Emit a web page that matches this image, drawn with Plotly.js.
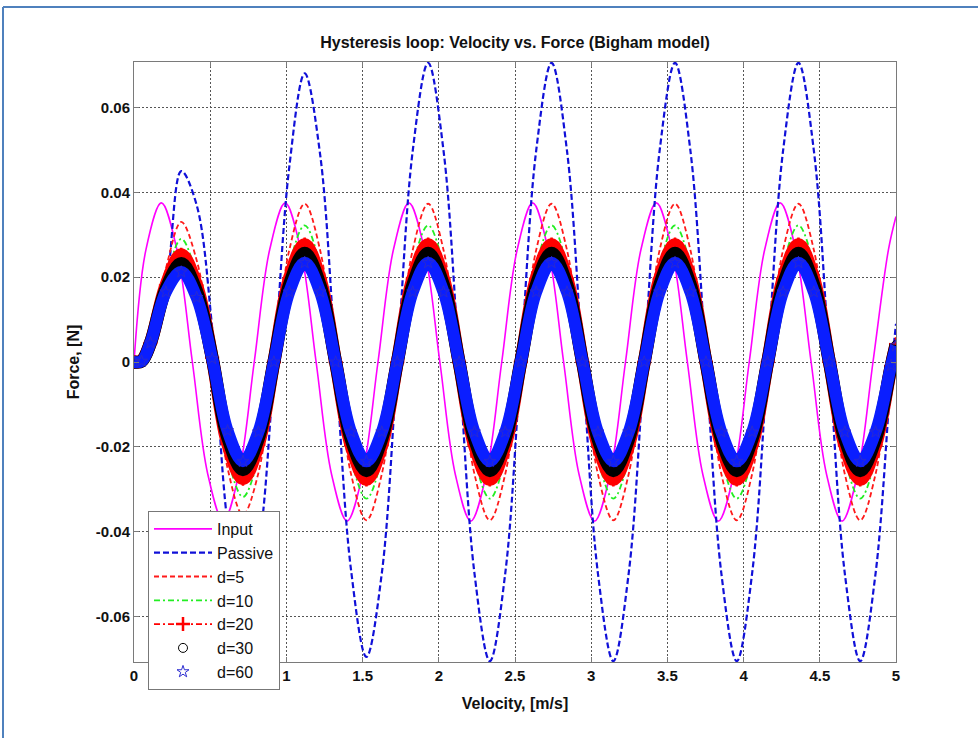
<!DOCTYPE html>
<html>
<head>
<meta charset="utf-8">
<script src="https://cdn.plot.ly/plotly-3.0.1.min.js"></script>
<style>
  html, body { margin: 0; padding: 0; background: #ffffff; }
  #chart { width: 978px; height: 738px; }
</style>
</head>
<body>
<div id="chart"></div>
<script>
// ---- data ----
var xInput = [0, 0.0785, 0.18, 0.2815, 0.383, 0.4845, 0.586, 0.6875, 0.789, 0.8905, 0.992, 1.0935, 1.195, 1.2965, 1.398, 1.4995, 1.601, 1.7025, 1.804, 1.9055, 2.007, 2.1085, 2.21, 2.3115, 2.413, 2.5145, 2.616, 2.7175, 2.819, 2.9205, 3.022, 3.1235, 3.225, 3.3265, 3.428, 3.5295, 3.631, 3.7325, 3.834, 3.9355, 4.037, 4.1385, 4.24, 4.3415, 4.443, 4.5445, 4.646, 4.7475, 4.849, 4.9505, 5.0];
var yInput = [0, 0.0265, 0.0375, 0.0265, 0, -0.0265, -0.0375, -0.0265, 0, 0.0265, 0.0375, 0.0265, 0, -0.0265, -0.0375, -0.0265, 0, 0.0265, 0.0375, 0.0265, 0, -0.0265, -0.0375, -0.0265, 0, 0.0265, 0.0375, 0.0265, 0, -0.0265, -0.0375, -0.0265, 0, 0.0265, 0.0375, 0.0265, 0, -0.0265, -0.0375, -0.0265, 0, 0.0265, 0.0375, 0.0265, 0, -0.0265, -0.0375, -0.0265, 0, 0.0265, 0.0343];

var xResp = [0, 0.05, 0.108, 0.209, 0.31, 0.411, 0.513, 0.614, 0.715, 0.816, 0.918, 1.019, 1.12, 1.221, 1.323, 1.424, 1.525, 1.626, 1.728, 1.829, 1.93, 2.031, 2.133, 2.234, 2.335, 2.436, 2.538, 2.639, 2.74, 2.841, 2.943, 3.044, 3.145, 3.246, 3.348, 3.449, 3.55, 3.651, 3.753, 3.854, 3.955, 4.056, 4.158, 4.259, 4.36, 4.461, 4.563, 4.664, 4.765, 4.866, 4.968, 5.0];

var yPassive = [0, 0.0005, 0.004, 0.017, 0.045, 0.037, 0.008, -0.038, -0.058, -0.044, -0.002, 0.046, 0.068, 0.049, 0, -0.049, -0.0695, -0.0498, 0, 0.0498, 0.0705, 0.0498, 0, -0.0498, -0.0705, -0.0498, 0, 0.0498, 0.0705, 0.0498, 0, -0.0498, -0.0705, -0.0498, 0, 0.0498, 0.0705, 0.0498, 0, -0.0498, -0.0705, -0.0498, 0, 0.0498, 0.0705, 0.0498, 0, -0.0498, -0.0705, -0.0498, -0.003, 0.009];

var yD5 = [0, 0.0004, 0.005, 0.022, 0.033, 0.024, 0.002, -0.025, -0.036, -0.0262, 0, 0.0264, 0.0373, 0.0264, 0, -0.0264, -0.0373, -0.0264, 0, 0.0264, 0.0373, 0.0264, 0, -0.0264, -0.0373, -0.0264, 0, 0.0264, 0.0373, 0.0264, 0, -0.0264, -0.0373, -0.0264, 0, 0.0264, 0.0373, 0.0264, 0, -0.0264, -0.0373, -0.0264, 0, 0.0264, 0.0373, 0.0264, 0, -0.0264, -0.0373, -0.0264, -0.001, 0.005];

var yD10 = [0, 0.0003, 0.0045, 0.0195, 0.029, 0.0205, 0.0015, -0.0225, -0.0318, -0.0226, 0, 0.0228, 0.0322, 0.0228, 0, -0.0228, -0.0322, -0.0228, 0, 0.0228, 0.0322, 0.0228, 0, -0.0228, -0.0322, -0.0228, 0, 0.0228, 0.0322, 0.0228, 0, -0.0228, -0.0322, -0.0228, 0, 0.0228, 0.0322, 0.0228, 0, -0.0228, -0.0322, -0.0228, 0, 0.0228, 0.0322, 0.0228, 0, -0.0228, -0.0322, -0.0228, -0.001, 0.0045];

var yD20 = [0, 0.0003, 0.0045, 0.018, 0.0253, 0.018, 0.001, -0.0192, -0.0275, -0.0195, 0, 0.0196, 0.0277, 0.0196, 0, -0.0196, -0.0277, -0.0196, 0, 0.0196, 0.0277, 0.0196, 0, -0.0196, -0.0277, -0.0196, 0, 0.0196, 0.0277, 0.0196, 0, -0.0196, -0.0277, -0.0196, 0, 0.0196, 0.0277, 0.0196, 0, -0.0196, -0.0277, -0.0196, 0, 0.0196, 0.0277, 0.0196, 0, -0.0196, -0.0277, -0.0196, -0.001, 0.0042];

var yD30 = [0, 0.0002, 0.0045, 0.0172, 0.0232, 0.0166, 0.001, -0.0177, -0.0254, -0.018, 0, 0.0181, 0.0256, 0.0181, 0, -0.0181, -0.0256, -0.0181, 0, 0.0181, 0.0256, 0.0181, 0, -0.0181, -0.0256, -0.0181, 0, 0.0181, 0.0256, 0.0181, 0, -0.0181, -0.0256, -0.0181, 0, 0.0181, 0.0256, 0.0181, 0, -0.0181, -0.0256, -0.0181, 0, 0.0181, 0.0256, 0.0181, 0, -0.0181, -0.0256, -0.0181, -0.001, 0.004];

var yD60 = [0, 0.0002, 0.0045, 0.0165, 0.0212, 0.0152, 0.0008, -0.0162, -0.0234, -0.0165, 0, 0.0165, 0.0234, 0.0165, 0, -0.0165, -0.0234, -0.0165, 0, 0.0165, 0.0234, 0.0165, 0, -0.0165, -0.0234, -0.0165, 0, 0.0165, 0.0234, 0.0165, 0, -0.0165, -0.0234, -0.0165, 0, 0.0165, 0.0234, 0.0165, 0, -0.0165, -0.0234, -0.0165, 0, 0.0165, 0.0234, 0.0165, 0, -0.0165, -0.0234, -0.0165, -0.0008, 0.0038];

var seriesNames = ["Input", "Passive", "d=5", "d=10", "d=20", "d=30", "d=60"];

// the "0.5" label is hidden behind the legend in the reference
var xTickVals = [0, 0.5, 1, 1.5, 2, 2.5, 3, 3.5, 4, 4.5, 5];
var xTickText = ["0", "", "1", "1.5", "2", "2.5", "3", "3.5", "4", "4.5", "5"];
var yTickVals = [-0.06, -0.04, -0.02, 0, 0.02, 0.04, 0.06];
var yTickText = ["-0.06", "-0.04", "-0.02", "0", "0.02", "0.04", "0.06"];

var titleText = "Hysteresis loop: Velocity vs. Force (Bigham model)";
var xTitle = "Velocity, [m/s]";
var yTitle = "Force, [N]";

// ---- traces ----
var FONT = "Liberation Sans, Arial, Helvetica, sans-serif";
var spl = {shape: "spline", smoothing: 1};

function line(x, y, name, color, width, dash, extra) {
  var t = {
    x: x, y: y, name: name, type: "scatter", mode: "lines",
    line: Object.assign({color: color, width: width, dash: dash}, spl),
    hoverinfo: "skip"
  };
  return Object.assign(t, extra || {});
}

var traces = [
  line(xInput, yInput, seriesNames[0], "#ff00ff", 1.6, "solid"),
  line(xResp, yPassive, seriesNames[1], "#1010d8", 2.2, "6px,3px"),
  line(xResp, yD5, seriesNames[2], "#ff1a1a", 1.8, "5px,3px"),
  line(xResp, yD10, seriesNames[3], "#22ee22", 1.8, "6px,3px,2px,3px"),
  // d=20 : dense "+" markers form a thick red band
  line(xResp, yD20, seriesNames[4], "#ff0000", 13, "solid", {showlegend: false, legendgroup: "d20"}),
  {
    x: xResp, y: yD20, name: seriesNames[4], type: "scatter", mode: "lines+markers",
    legendgroup: "d20", hoverinfo: "skip",
    line: Object.assign({color: "#ff0000", width: 1.6, dash: "6px,3px,2px,3px"}, spl),
    marker: {symbol: "cross-thin", size: 10, color: "#ff0000", line: {color: "#ff0000", width: 2.5}}
  },
  // d=30 : dense black circles
  line(xResp, yD30, seriesNames[5], "#000000", 13, "solid", {showlegend: false, legendgroup: "d30"}),
  {
    x: xResp, y: yD30, name: seriesNames[5], type: "scatter", mode: "markers",
    legendgroup: "d30", hoverinfo: "skip",
    marker: {symbol: "circle-open", size: 9, color: "#000000", line: {color: "#222222", width: 1}}
  },
  // d=60 : dense blue stars
  line(xResp, yD60, seriesNames[6], "#0a1eff", 12, "solid", {showlegend: false, legendgroup: "d60"}),
  {
    x: xResp, y: yD60, name: seriesNames[6], type: "scatter", mode: "markers",
    legendgroup: "d60", hoverinfo: "skip",
    marker: {symbol: "star-open", size: 9, color: "#2a2ad0", line: {color: "#2a2ad0", width: 1}}
  }
];

// plot area in pixels: left 134, right 896, top 62, bottom 662
var L = 134, R = 896, T = 62, B = 662, W = 978, H = 738;
function px2paperX(p) { return (p - L) / (R - L); }
function px2paperY(p) { return (B - p) / (B - T); }

var axisCommon = {
  showline: true, linecolor: "#7a7a7a", linewidth: 1, mirror: "ticks",
  ticks: "inside", ticklen: 5, tickcolor: "#7a7a7a", tickwidth: 1,
  showgrid: true, gridcolor: "#555555", gridwidth: 1, griddash: "2px,2px",
  zeroline: false, tickmode: "array",
  tickfont: {family: FONT, size: 15, color: "#111111", weight: "bold"},
  fixedrange: true
};

var layout = {
  width: W, height: H,
  margin: {l: L, r: W - R, t: T, b: H - B, pad: 0, autoexpand: false},
  paper_bgcolor: "#ffffff", plot_bgcolor: "#ffffff",
  showlegend: true,
  title: {
    text: titleText, xref: "paper", x: 0.5, xanchor: "center",
    yref: "container", y: 1 - 42 / H, yanchor: "middle",
    font: {family: FONT, size: 16, color: "#111111", weight: "bold"}
  },
  xaxis: Object.assign({}, axisCommon, {
    range: [0, 5], tickvals: xTickVals, ticktext: xTickText,
    title: {text: xTitle, standoff: 14, font: {family: FONT, size: 16, color: "#111111", weight: "bold"}}
  }),
  yaxis: Object.assign({}, axisCommon, {
    range: [-0.0707, 0.0707], tickvals: yTickVals, ticktext: yTickText,
    title: {text: yTitle, standoff: 12, font: {family: FONT, size: 16, color: "#111111", weight: "bold"}}
  }),
  legend: {
    x: px2paperX(148), y: px2paperY(511), xanchor: "left", yanchor: "top",
    bgcolor: "#ffffff", bordercolor: "#777777", borderwidth: 1,
    font: {family: FONT, size: 16, color: "#111111"},
    itemwidth: 58, tracegroupgap: 0, traceorder: "normal"
  },
  shapes: [
    {type: "line", xref: "paper", yref: "paper",
     x0: px2paperX(3), x1: px2paperX(3), y0: px2paperY(H), y1: px2paperY(7),
     line: {color: "#4f81bd", width: 2}},
    {type: "line", xref: "paper", yref: "paper",
     x0: px2paperX(3), x1: px2paperX(W), y0: px2paperY(7), y1: px2paperY(7),
     line: {color: "#4f81bd", width: 2}}
  ]
};

Plotly.newPlot("chart", traces, layout, {displayModeBar: false, staticPlot: true});
</script>
</body>
</html>
